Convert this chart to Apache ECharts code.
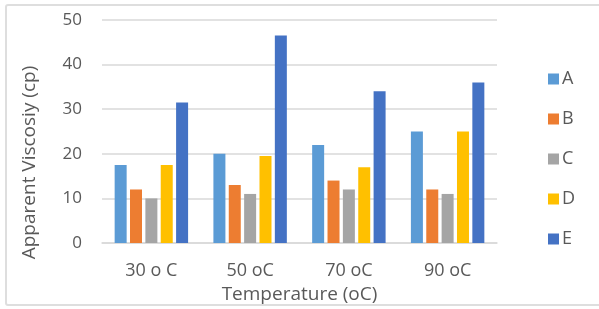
<!DOCTYPE html>
<html>
<head>
<meta charset="utf-8">
<script src="https://cdn.jsdelivr.net/npm/echarts@6/dist/echarts.min.js"></script>
<style>
html, body { margin: 0; padding: 0; background: #fff; }
#frame { position: absolute; left: 5px; top: 4px; width: 600px; height: 302px; border: 2px solid #dedede; border-radius: 3px; box-sizing: border-box; }
#chart { width: 599px; height: 309px; position: absolute; left: 0; top: 0; }
</style>
</head>
<body>
<div id="frame"></div>
<div id="chart"></div>
<script>
// categories and series values
var temps = ['30 o C', '50 oC', '70 oC', '90 oC'];
var seriesNames = ['A', 'B', 'C', 'D', 'E'];
var seriesColors = ['#5B9BD5', '#ED7D31', '#A5A5A5', '#FFC000', '#4472C4'];
var valuesA = [17.5, 20, 22, 25];
var valuesB = [12, 13, 14, 12];
var valuesC = [10, 11, 12, 11];
var valuesD = [17.5, 19.5, 17, 25];
var valuesE = [31.5, 46.5, 34, 36];
var allValues = [valuesA, valuesB, valuesC, valuesD, valuesE];

var font = '"Open Sans", "Noto Sans", sans-serif';
var textColor = '#595959';

var series = [];
for (var i = 0; i < seriesNames.length; i++) {
	series.push({
		name: seriesNames[i],
		type: 'bar',
		barWidth: 12,
		barGap: '28%',
		itemStyle: { color: seriesColors[i] },
		data: allValues[i]
	});
}

var myChart = echarts.init(document.getElementById('chart'), null, { renderer: 'canvas' });
var option = {
	animation: false,
	grid: { left: 102, right: 102, top: 20, bottom: 66 },
	legend: {
		orient: 'vertical',
		left: 543,
		top: 65,
		itemWidth: 11,
		itemHeight: 11,
		itemGap: 22,
		icon: 'rect',
		textStyle: { fontFamily: font, fontSize: 18, color: textColor, padding: [0, 0, 0, -2] },
		data: seriesNames
	},
	xAxis: {
		type: 'category',
		data: temps,
		name: 'Temperature (oC)',
		nameLocation: 'middle',
		nameGap: 37,
		nameTextStyle: { fontFamily: font, fontSize: 19, color: textColor },
		axisLine: { lineStyle: { color: '#d9d9d9', width: 1.5 } },
		axisTick: { show: false },
		axisLabel: { fontFamily: font, fontSize: 18, color: textColor, margin: 19 }
	},
	yAxis: {
		type: 'value',
		min: 0,
		max: 50,
		interval: 10,
		name: 'Apparent Viscosiy (cp)',
		nameLocation: 'middle',
		nameGap: 63,
		nameTextStyle: { fontFamily: font, fontSize: 19, color: textColor, padding: [0, 62, 0, 0] },
		axisLine: { show: false },
		axisTick: { show: false },
		splitLine: { lineStyle: { color: '#d9d9d9', width: 1.5 } },
		axisLabel: { fontFamily: font, fontSize: 17, color: textColor, margin: 20 }
	},
	series: series
};
myChart.setOption(option);
</script>
</body>
</html>
